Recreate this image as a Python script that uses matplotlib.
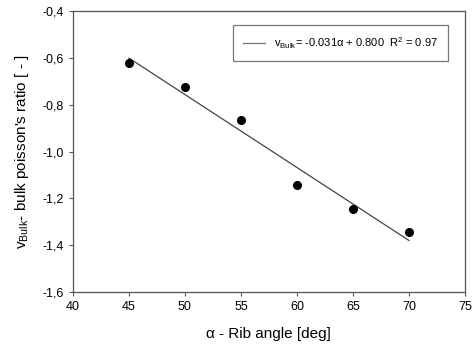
import numpy as np
import matplotlib.pyplot as plt

plt.rcParams['font.family'] = ['Liberation Sans', 'DejaVu Sans']
plt.rcParams['mathtext.fontset'] = 'custom'
plt.rcParams['mathtext.rm'] = 'Liberation Sans'
plt.rcParams['mathtext.it'] = 'Liberation Sans'

# data
rib_angle = np.array([45, 50, 55, 60, 65, 70])
poisson = np.array([-0.621, -0.725, -0.865, -1.142, -1.244, -1.344])

x_ticks = [40, 45, 50, 55, 60, 65, 70, 75]
y_ticks = [-1.6, -1.4, -1.2, -1.0, -0.8, -0.6, -0.4]

# linear fit
slope, intercept = np.polyfit(rib_angle, poisson, 1)
fit_x = np.array([rib_angle.min(), rib_angle.max()])
fit_y = slope * fit_x + intercept

fig = plt.figure(figsize=(4.73, 3.52), dpi=100)
ax = fig.add_axes([0.154, 0.170, 0.829, 0.799])

fit_label = (r'$\mathregular{v_{Bulk}}$= -0.031α + 0.800  '
             r'R$^\mathregular{2}$ = 0.97')
ax.plot(fit_x, fit_y, color='#444444', lw=0.9, label=fit_label)
ax.plot(rib_angle, poisson, 'o', color='black', ms=5.5, zorder=3)

ax.set_xlim(40, 75)
ax.set_ylim(-1.6, -0.4)
ax.set_xticks(x_ticks)
ax.set_yticks(y_ticks)
ax.set_yticklabels([f'{v:.1f}'.replace('.', ',') for v in y_ticks])
ax.tick_params(labelsize=9, direction='out', length=3, width=0.8, color='#555555')

for sp in ax.spines.values():
    sp.set_color('#555555')
    sp.set_linewidth(0.9)

ax.set_xlabel('α - Rib angle [deg]', fontsize=11, labelpad=10)
ax.set_ylabel("$\\mathregular{v_{Bulk}}$- bulk poisson's ratio [ - ]",
              fontsize=11, labelpad=8)

leg = ax.legend(loc='upper right', fontsize=8, frameon=True, fancybox=False,
                handlelength=2.0, borderpad=0.9, borderaxespad=0,
                bbox_to_anchor=(0.957, 0.950))
leg.get_frame().set_edgecolor('#555555')
leg.get_frame().set_linewidth(0.9)
leg.get_lines()[0].set_color('#777777')

fig.savefig('out.png', dpi=100)
